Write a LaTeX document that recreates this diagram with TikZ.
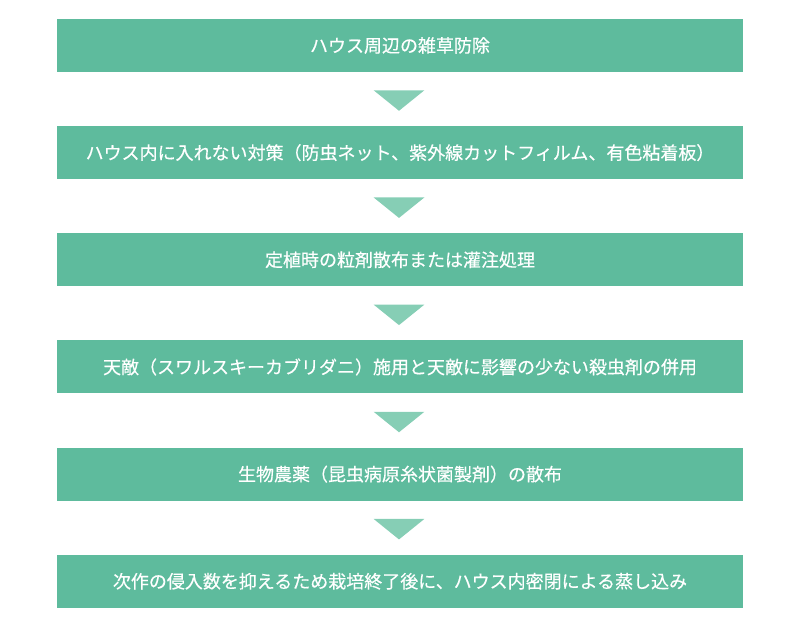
\documentclass[tikz,border=0pt]{standalone}
\usepackage{fontspec}
\newfontfamily\cjk[FakeBold=0.4]{Noto Sans CJK JP}
\usetikzlibrary{positioning}
\definecolor{boxgreen}{RGB}{94,187,157}
\definecolor{arrowgreen}{RGB}{134,206,181}

\begin{document}
\begin{tikzpicture}[
  stepbox/.style={rectangle,fill=boxgreen,minimum width=17.15cm,minimum height=1.325cm,inner sep=0pt,text=white,font=\cjk\fontsize{12.8}{15}\selectfont},
  downtri/.style={fill=arrowgreen}]
\useasboundingbox (0,0) rectangle (20,15.775);
\node[stepbox] (s1) at (10,14.6375) {ハウス周辺の雑草防除};
\node[stepbox,below=1.34cm of s1] (s2) {ハウス内に入れない対策（防虫ネット、紫外線カットフィルム、有色粘着板）};
\node[stepbox,below=1.34cm of s2] (s3) {定植時の粒剤散布または灌注処理};
\node[stepbox,below=1.34cm of s3] (s4) {天敵（スワルスキーカブリダニ）施用と天敵に影響の少ない殺虫剤の併用};
\node[stepbox,below=1.34cm of s4] (s5) {生物農薬（昆虫病原糸状菌製剤）の散布};
\node[stepbox,below=1.34cm of s5] (s6) {次作の侵入数を抑えるため栽培終了後に、ハウス内密閉による蒸し込み};

\fill[downtri] ([shift={(-0.66,-0.45)}]s1.south) -- ([shift={(0.61,-0.45)}]s1.south) -- ([shift={(-0.025,-0.9625)}]s1.south) -- cycle;
\fill[downtri] ([shift={(-0.66,-0.45)}]s2.south) -- ([shift={(0.61,-0.45)}]s2.south) -- ([shift={(-0.025,-0.9625)}]s2.south) -- cycle;
\fill[downtri] ([shift={(-0.66,-0.45)}]s3.south) -- ([shift={(0.61,-0.45)}]s3.south) -- ([shift={(-0.025,-0.9625)}]s3.south) -- cycle;
\fill[downtri] ([shift={(-0.66,-0.45)}]s4.south) -- ([shift={(0.61,-0.45)}]s4.south) -- ([shift={(-0.025,-0.9625)}]s4.south) -- cycle;
\fill[downtri] ([shift={(-0.66,-0.45)}]s5.south) -- ([shift={(0.61,-0.45)}]s5.south) -- ([shift={(-0.025,-0.9625)}]s5.south) -- cycle;

\end{tikzpicture}
\end{document}
